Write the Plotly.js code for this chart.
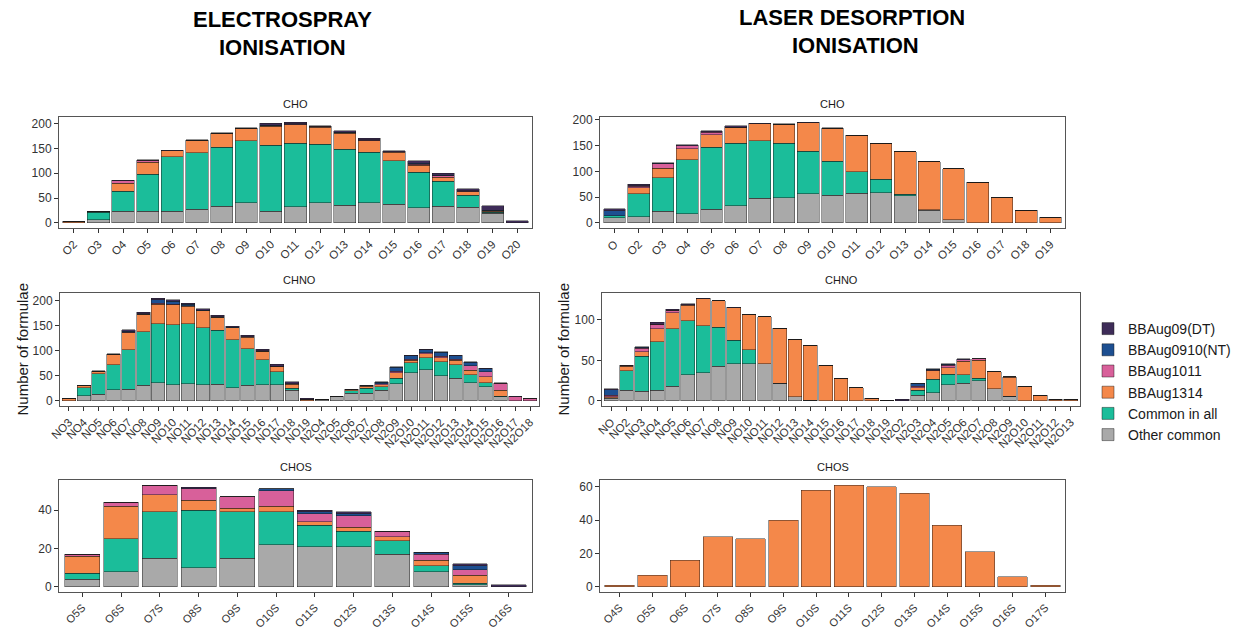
<!DOCTYPE html>
<html>
<head>
<meta charset="utf-8">
<script src="https://cdn.plot.ly/plotly-3.0.1.min.js"></script>
<style>
  html, body { margin: 0; padding: 0; background: #ffffff; }
  #chart { width: 1252px; height: 632px; }
</style>
</head>
<body>
<div id="chart"></div>
<script>
// Legend labels, listed from the bottom of each stack to the top
const seriesNames = ['Other common', 'Common in all', 'BBAug1314', 'BBAug1011', 'BBAug0910(NT)', 'BBAug09(DT)'];

// ---- Electrospray, CHO ----
const esiChoCats   = ['O2','O3','O4','O5','O6','O7','O8','O9','O10','O11','O12','O13','O14','O15','O16','O17','O18','O19','O20'];
const esiChoOther  = [0, 6, 24, 24, 24, 28, 34, 41, 24, 33, 41, 36, 41, 38, 31, 34, 32, 20, 0];
const esiChoCommon = [0, 16, 40, 74, 109, 113, 118, 124, 132, 127, 117, 112, 101, 87, 71, 50, 24, 2, 0];
const esiCho1314   = [3, 2, 16, 24, 12, 25, 28, 26, 39, 38, 35, 32, 23, 17, 14, 8, 7, 2, 0];
const esiCho1011   = [0, 0, 5, 4, 0, 0, 0, 0, 1, 1, 2, 1, 1, 1, 2, 3, 1, 1, 0];
const esiCho0910   = [0, 0, 0, 0, 0, 0, 0, 0, 1, 1, 0, 1, 1, 0, 2, 1, 1, 1, 0];
const esiCho09     = [0, 0, 1, 1, 1, 1, 1, 1, 4, 3, 1, 3, 3, 2, 5, 4, 4, 9, 4];

// ---- Laser desorption, CHO ----
const ldiChoCats   = ['O','O2','O3','O4','O5','O6','O7','O8','O9','O10','O11','O12','O13','O14','O15','O16','O17','O18','O19'];
const ldiChoOther  = [10, 12, 23, 18, 27, 33, 48, 49, 57, 54, 58, 59, 53, 25, 6, 0, 0, 0, 0];
const ldiChoCommon = [4, 45, 65, 105, 120, 122, 112, 106, 82, 66, 41, 26, 3, 1, 0, 0, 0, 0, 0];
const ldiCho1314   = [0, 11, 18, 21, 24, 30, 33, 37, 56, 64, 71, 70, 82, 93, 99, 79, 49, 25, 11];
const ldiCho1011   = [0, 3, 9, 6, 5, 1, 0, 0, 0, 0, 0, 0, 0, 0, 0, 0, 0, 0, 0];
const ldiCho0910   = [10, 1, 1, 0, 1, 0, 0, 0, 0, 0, 0, 0, 0, 0, 0, 0, 0, 0, 0];
const ldiCho09     = [4, 3, 1, 2, 2, 3, 1, 1, 1, 1, 0, 0, 0, 0, 0, 0, 0, 0, 0];

// ---- Electrospray, CHNO ----
const esiChnoCats   = ['NO3','NO4','NO5','NO6','NO7','NO8','NO9','NO10','NO11','NO12','NO13','NO14','NO15','NO16','NO17','NO18','NO19',
                       'N2O4','N2O5','N2O6','N2O7','N2O8','N2O9','N2O10','N2O11','N2O12','N2O13','N2O14','N2O15','N2O16','N2O17','N2O18'];
const esiChnoOther  = [0, 10, 13, 22, 23, 31, 36, 32, 34, 32, 33, 26, 31, 32, 32, 21, 0,
                       2, 9, 15, 15, 21, 34, 56, 62, 50, 45, 36, 28, 8, 0, 0];
const esiChnoCommon = [0, 16, 41, 50, 79, 107, 118, 120, 120, 114, 108, 96, 73, 50, 26, 4, 0,
                       0, 0, 5, 10, 7, 11, 20, 24, 28, 27, 16, 8, 1, 0, 0];
const esiChno1314   = [4, 4, 5, 21, 34, 35, 39, 40, 35, 34, 26, 24, 23, 17, 10, 8, 2,
                       0, 0, 2, 4, 4, 11, 5, 8, 8, 9, 9, 12, 12, 0, 0];
const esiChno1011   = [0, 0, 0, 0, 1, 0, 2, 1, 1, 0, 0, 0, 1, 0, 1, 1, 1,
                       0, 0, 1, 1, 2, 3, 2, 2, 3, 2, 9, 10, 14, 8, 5];
const esiChno0910   = [0, 0, 0, 0, 2, 1, 7, 6, 3, 1, 1, 1, 0, 1, 0, 0, 0,
                       0, 0, 0, 1, 3, 8, 7, 6, 8, 7, 7, 6, 0, 0, 0];
const esiChno09     = [0, 0, 1, 1, 3, 3, 3, 3, 2, 3, 3, 2, 3, 3, 4, 4, 2,
                       0, 0, 0, 0, 1, 1, 1, 1, 1, 1, 1, 1, 1, 1, 0];

// ---- Laser desorption, CHNO ----
const ldiChnoCats   = ['NO','NO2','NO3','NO4','NO5','NO6','NO7','NO8','NO9','NO10','NO11','NO12','NO13','NO14','NO15','NO16','NO17','NO18','NO19',
                       'N2O2','N2O3','N2O4','N2O5','N2O6','N2O7','N2O8','N2O9','N2O10','N2O11','N2O12','N2O13'];
const ldiChnoOther  = [3, 13, 12, 13, 18, 32, 35, 43, 46, 46, 46, 22, 5, 1, 0, 0, 0, 0, 0,
                       0, 7, 10, 20, 22, 25, 15, 6, 0, 0, 0, 0];
const ldiChnoCommon = [1, 24, 43, 60, 71, 67, 58, 48, 29, 17, 0, 0, 0, 0, 0, 0, 0, 0, 0,
                       0, 6, 17, 13, 10, 3, 0, 0, 0, 0, 0, 0];
const ldiChno1314   = [1, 6, 6, 16, 20, 19, 33, 33, 40, 44, 58, 68, 71, 68, 44, 28, 16, 3, 1,
                       0, 3, 10, 8, 17, 22, 21, 23, 18, 7, 2, 2];
const ldiChno1011   = [2, 1, 4, 6, 3, 1, 0, 0, 0, 0, 0, 0, 0, 0, 0, 0, 0, 0, 0,
                       0, 2, 1, 3, 2, 2, 0, 1, 0, 0, 0, 0];
const ldiChno0910   = [7, 0, 1, 0, 0, 0, 0, 0, 0, 0, 0, 0, 0, 0, 0, 0, 0, 0, 0,
                       0, 4, 1, 1, 0, 0, 0, 0, 0, 0, 0, 0];
const ldiChno09     = [1, 0, 1, 2, 1, 1, 1, 0, 1, 0, 0, 0, 0, 0, 0, 0, 0, 0, 0,
                       2, 0, 1, 1, 1, 0, 0, 0, 0, 0, 0, 0];

// ---- Electrospray, CHOS ----
const esiChosCats   = ['O5S','O6S','O7S','O8S','O9S','O10S','O11S','O12S','O13S','O14S','O15S','O16S'];
const esiChosOther  = [4, 8, 15, 10, 15, 22, 21, 21, 17, 8, 1, 0];
const esiChosCommon = [3, 17, 24, 30, 24, 17, 11, 8, 7, 3, 1, 0];
const esiChos1314   = [9, 17, 9, 5, 2, 3, 2, 2, 2, 3, 4, 0];
const esiChos1011   = [1, 2, 5, 6, 6, 8, 4, 6, 3, 3, 3, 0];
const esiChos0910   = [0, 0, 0, 0, 0, 1, 1, 1, 0, 1, 2, 0];
const esiChos09     = [0, 0, 0, 1, 0, 0, 1, 1, 0, 0, 1, 1];

// ---- Laser desorption, CHOS (only BBAug1314 present) ----
const ldiChosCats = ['O4S','O5S','O6S','O7S','O8S','O9S','O10S','O11S','O12S','O13S','O14S','O15S','O16S','O17S'];
const ldiChos1314 = [1, 7, 16, 30, 29, 40, 58, 61, 60, 56, 37, 21, 6, 1];

// ---------------------------------------------------------------
const W = 1252, H = 632;
const seriesColors = ['#a9a9a9', '#1bbd9a', '#f4884a', '#d8609a', '#1d4f91', '#3e2c58'];
const FONT = 'Liberation Sans, Arial, Helvetica, sans-serif';

// panel boxes in pixels: left, right, top, bottom; xfs = x tick font size
const panels = [
  { cats: esiChoCats,  series: [esiChoOther, esiChoCommon, esiCho1314, esiCho1011, esiCho0910, esiCho09],
    box: [59, 532, 117, 228], yr: [-10.15, 213.15], dtick: 50, title: 'CHO', xfs: 11.5 },
  { cats: ldiChoCats,  series: [ldiChoOther, ldiChoCommon, ldiCho1314, ldiCho1011, ldiCho0910, ldiCho09],
    box: [600, 1065, 117, 228], yr: [-9.8, 205.8], dtick: 50, title: 'CHO', xfs: 11.5 },
  { cats: esiChnoCats, series: [esiChnoOther, esiChnoCommon, esiChno1314, esiChno1011, esiChno0910, esiChno09],
    box: [60, 539, 293, 406], yr: [-10.25, 215.25], dtick: 50, title: 'CHNO', xfs: 11.5 },
  { cats: ldiChnoCats, series: [ldiChnoOther, ldiChnoCommon, ldiChno1314, ldiChno1011, ldiChno0910, ldiChno09],
    box: [602, 1080, 293, 406], yr: [-6.35, 133.35], dtick: 50, title: 'CHNO', xfs: 11.5 },
  { cats: esiChosCats, series: [esiChosOther, esiChosCommon, esiChos1314, esiChos1011, esiChos0910, esiChos09],
    box: [59, 532, 480, 592], yr: [-2.65, 55.65], dtick: 20, title: 'CHOS', xfs: 11 },
  { cats: ldiChosCats, series: [null, null, ldiChos1314, null, null, null],
    box: [600, 1065, 480, 592], yr: [-3.05, 64.05], dtick: 20, title: 'CHOS', xfs: 11 }
];

const traces = [];
const layout = {
  width: W, height: H,
  margin: { l: 0, r: 0, t: 0, b: 0, pad: 0 },
  paper_bgcolor: '#ffffff',
  plot_bgcolor: '#ffffff',
  barmode: 'stack',
  bargap: 0.1,
  font: { family: FONT, color: '#1a1a1a' },
  showlegend: true,
  legend: {
    x: 1088 / W, y: 1 - 313 / H, xanchor: 'left', yanchor: 'top',
    traceorder: 'reversed', tracegroupgap: 0,
    font: { family: FONT, size: 14, color: '#1a1a1a' },
    bgcolor: 'rgba(0,0,0,0)'
  },
  annotations: []
};

panels.forEach((p, i) => {
  const n = i + 1;
  const xa = n === 1 ? 'x' : 'x' + n;
  const ya = n === 1 ? 'y' : 'y' + n;
  const [l, r, t, b] = p.box;

  layout[n === 1 ? 'xaxis' : 'xaxis' + n] = {
    domain: [l / W, r / W], anchor: ya,
    type: 'category', categoryorder: 'array', categoryarray: p.cats,
    range: [-0.6, p.cats.length - 0.4],
    showline: true, mirror: true, linecolor: '#555555', linewidth: 1,
    ticks: 'outside', ticklen: 4, tickwidth: 1, tickcolor: '#333333',
    tickangle: -45, tickfont: { family: FONT, size: p.xfs, color: '#333333' },
    showgrid: false, zeroline: false, fixedrange: true
  };
  layout[n === 1 ? 'yaxis' : 'yaxis' + n] = {
    domain: [1 - b / H, 1 - t / H], anchor: xa,
    range: p.yr, dtick: p.dtick, tick0: 0,
    showline: true, mirror: true, linecolor: '#555555', linewidth: 1,
    ticks: 'outside', ticklen: 4, tickwidth: 1, tickcolor: '#333333',
    tickfont: { family: FONT, size: 12, color: '#333333' },
    showgrid: false, zeroline: false, fixedrange: true
  };

  p.series.forEach((vals, s) => {
    if (!vals) return;
    traces.push({
      type: 'bar',
      name: seriesNames[s],
      legendgroup: seriesNames[s],
      showlegend: i === 0,
      x: p.cats, y: vals,
      xaxis: xa, yaxis: ya,
      marker: { color: seriesColors[s], line: { color: 'rgba(25,25,25,0.5)', width: 0.9 } },
      hovertemplate: '%{x}: %{y}<extra>' + seriesNames[s] + '</extra>'
    });
  });

  // panel strip title
  layout.annotations.push({
    text: p.title, xref: 'paper', yref: 'paper',
    x: (l + r) / 2 / W, y: 1 - (t - 13) / H, xanchor: 'center', yanchor: 'middle',
    showarrow: false, font: { family: FONT, size: 11, color: '#1a1a1a' }
  });
});

// y-axis titles beside the CHNO panels
[22, 563].forEach(px => {
  layout.annotations.push({
    text: 'Number of formulae', xref: 'paper', yref: 'paper',
    x: px / W, y: 1 - 349.5 / H, xanchor: 'center', yanchor: 'middle',
    textangle: -90, showarrow: false, font: { family: FONT, size: 15, color: '#1a1a1a' }
  });
});

// column headings
const headings = [
  ['ELECTROSPRAY', 282, 20], ['IONISATION', 282, 48],
  ['LASER DESORPTION', 852, 17], ['IONISATION', 855, 45]
];
headings.forEach(([txt, px, py]) => {
  layout.annotations.push({
    text: '<b>' + txt + '</b>', xref: 'paper', yref: 'paper',
    x: px / W, y: 1 - py / H, xanchor: 'center', yanchor: 'middle',
    showarrow: false, font: { family: FONT, size: 22, color: '#000000' }
  });
});

Plotly.newPlot('chart', traces, layout, { displayModeBar: false, staticPlot: true });
</script>
</body>
</html>
